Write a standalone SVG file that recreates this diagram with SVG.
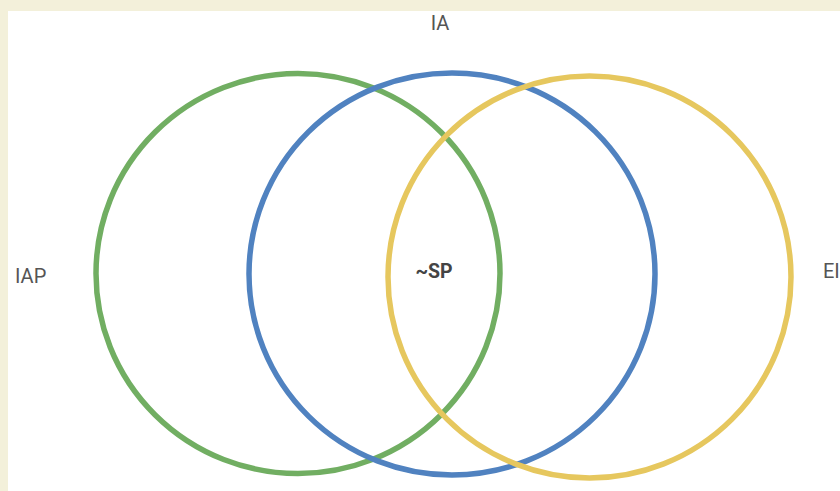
<svg xmlns="http://www.w3.org/2000/svg" width="840" height="491" viewBox="0 0 840 491">
<style>
.ring{fill:none;stroke-width:5.5}
.lbl{font-family:Roboto,"Liberation Sans",sans-serif;font-size:20px;fill:#555555}
.ctr{font-family:Roboto,"Liberation Sans",sans-serif;font-size:19.5px;font-weight:bold;fill:#444444}
</style>
<rect x="0" y="0" width="840" height="491" fill="#f3f0da"/>
<rect x="8" y="11" width="832" height="480" fill="#ffffff"/>
<g id="sets">
<g id="green"><ellipse class="ring" cx="298" cy="273.5" rx="202" ry="200" stroke="#71ae62"/></g>
<g id="blue"><ellipse class="ring" cx="452" cy="274" rx="203" ry="201" stroke="#5082c0"/></g>
<g id="yellow"><ellipse class="ring" cx="589.5" cy="277" rx="201.5" ry="201" stroke="#e6c75e"/></g>
</g>
<g id="labels">
<text class="lbl" x="440" y="30" text-anchor="middle">IA</text>
<text class="lbl" x="15" y="283">IAP</text>
<text class="ctr" x="434" y="278" text-anchor="middle">~SP</text>
<text class="lbl" x="823" y="278">EI</text>
</g>
</svg>
